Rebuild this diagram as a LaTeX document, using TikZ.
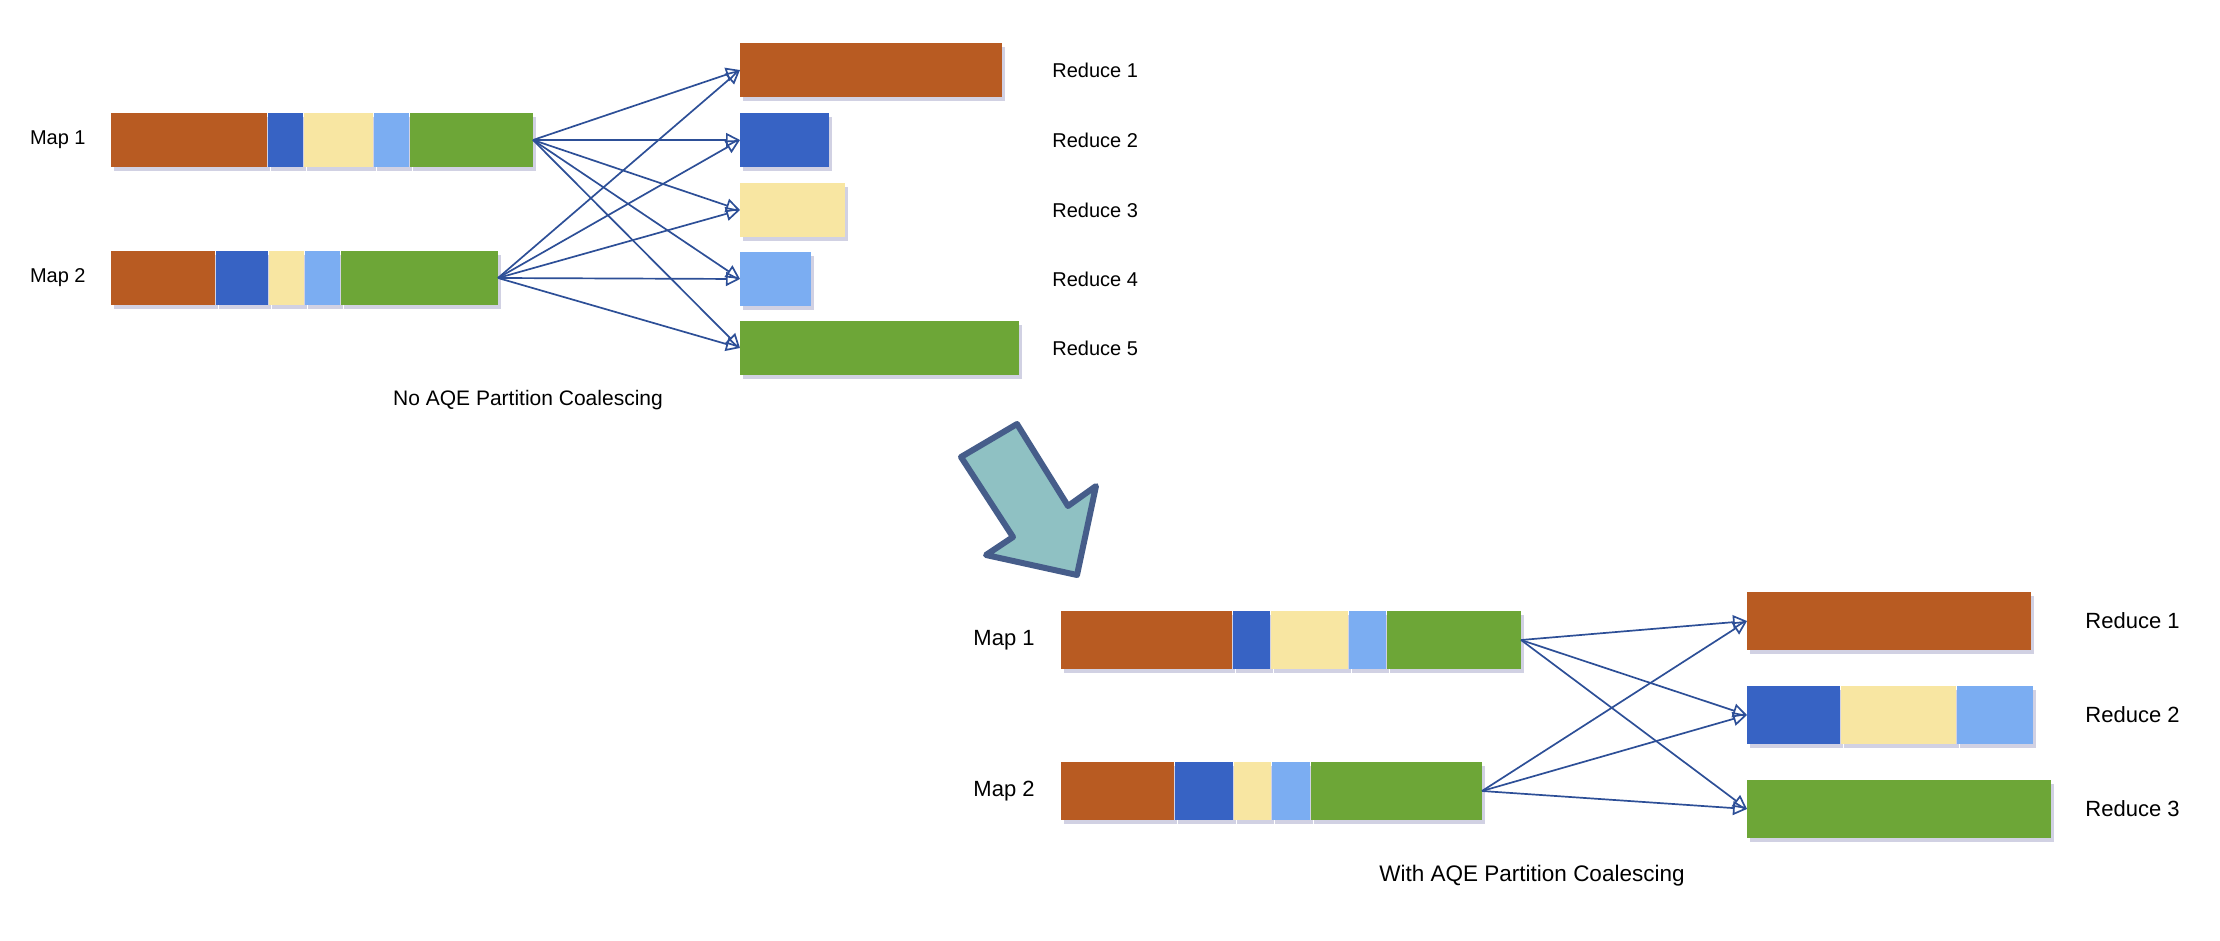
\documentclass[tikz,border=0pt]{standalone}
\usepackage{fontspec}
\setmainfont{Liberation Sans}
\usetikzlibrary{positioning,arrows.meta,shadows}
\definecolor{brn}{HTML}{B85B22}
\definecolor{dblu}{HTML}{3763C4}
\definecolor{ylw}{HTML}{F8E6A2}
\definecolor{lblu}{HTML}{7BADF2}
\definecolor{grn}{HTML}{6DA637}
\definecolor{edg}{HTML}{2D4F97}
\definecolor{bigfill}{HTML}{8FC1C3}
\definecolor{bigline}{HTML}{465D8A}

\begin{document}
\begin{tikzpicture}[x=0.5pt,y=-0.5pt,
        seg/.style={rectangle,inner sep=0pt,minimum height=27pt,anchor=west,
            drop shadow={shadow xshift=1.5pt,shadow yshift=-2pt,opacity=.18,fill=black!60!blue}},
        bseg/.style={seg,minimum height=29pt},
        lbl/.style={inner sep=0pt,font=\fontsize{10}{12}\selectfont},
        blbl/.style={inner sep=0pt,font=\fontsize{11}{13}\selectfont},
        flow/.style={every edge/.style={draw=edg,line width=0.85pt,
            -{Triangle[open,length=7pt,width=7pt]}}}]

    \useasboundingbox (0,0) rectangle (2220,941);

    % no coalescing
    \node[seg,fill=brn,minimum width=78pt] (a1) at (111,140) {};
    \node[seg,fill=dblu,minimum width=17.5pt,right=0pt of a1] (a2) {};
    \node[seg,fill=ylw,minimum width=34.5pt,right=0pt of a2] (a3) {};
    \node[seg,fill=lblu,minimum width=17.5pt,right=0pt of a3] (a4) {};
    \node[seg,fill=grn,minimum width=61.5pt,right=0pt of a4] (a5) {};
    \node[lbl,left=12.5pt of a1] (ma) {Map 1};

    \node[seg,fill=brn,minimum width=52pt] (b1) at (111,278) {};
    \node[seg,fill=dblu,minimum width=26pt,right=0pt of b1] (b2) {};
    \node[seg,fill=ylw,minimum width=17.5pt,right=0pt of b2] (b3) {};
    \node[seg,fill=lblu,minimum width=17.5pt,right=0pt of b3] (b4) {};
    \node[seg,fill=grn,minimum width=78.5pt,right=0pt of b4] (b5) {};
    \node[lbl,left=12.5pt of b1] (mb) {Map 2};

    \node[seg,fill=brn,minimum width=131pt] (r1) at (740,70) {};
    \node[seg,fill=dblu,minimum width=44.5pt] (r2) at (740,140) {};
    \node[seg,fill=ylw,minimum width=52.5pt] (r3) at (740,210) {};
    \node[seg,fill=lblu,minimum width=35.5pt] (r4) at (740,279) {};
    \node[seg,fill=grn,minimum width=139.5pt] (r5) at (740,348) {};

    \node[lbl,anchor=west] (t1) at (1052,70) {Reduce 1};
    \node[lbl,anchor=west] (t2) at (1052,140) {Reduce 2};
    \node[lbl,anchor=west] (t3) at (1052,210) {Reduce 3};
    \node[lbl,anchor=west] (t4) at (1052,279) {Reduce 4};
    \node[lbl,anchor=west] (t5) at (1052,348) {Reduce 5};

    \path[flow]
    (a5.east) edge (r1.west) edge (r2.west) edge (r3.west)
        edge (r4.west) edge (r5.west)
    (b5.east) edge (r1.west) edge (r2.west) edge (r3.west)
        edge (r4.west) edge (r5.west);

    \node[lbl,font=\fontsize{10.5}{12}\selectfont] (c1) at (528,400) {No AQE Partition Coalescing};

    % big arrow
    \draw[fill=bigfill,draw=bigline,line width=3pt,line join=round]
    (961,457) -- (1017,424) -- (1068,506) -- (1096,486) -- (1077,575)
    -- (986,555) -- (1013,537) -- cycle;

    % with coalescing
    \node[bseg,fill=brn,minimum width=85.5pt] (p1) at (1061,640) {};
    \node[bseg,fill=dblu,minimum width=18.5pt,right=0pt of p1] (p2) {};
    \node[bseg,fill=ylw,minimum width=38.5pt,right=0pt of p2] (p3) {};
    \node[bseg,fill=lblu,minimum width=18.5pt,right=0pt of p3] (p4) {};
    \node[bseg,fill=grn,minimum width=67pt,right=0pt of p4] (p5) {};
    \node[blbl,left=13pt of p1] (mp) {Map 1};

    \node[bseg,fill=brn,minimum width=56.5pt] (q1) at (1061,791) {};
    \node[bseg,fill=dblu,minimum width=29pt,right=0pt of q1] (q2) {};
    \node[bseg,fill=ylw,minimum width=18.5pt,right=0pt of q2] (q3) {};
    \node[bseg,fill=lblu,minimum width=19pt,right=0pt of q3] (q4) {};
    \node[bseg,fill=grn,minimum width=85.5pt,right=0pt of q4] (q5) {};
    \node[blbl,left=13pt of q1] (mq) {Map 2};

    \node[bseg,fill=brn,minimum width=142pt] (s1) at (1747,621) {};
    \node[bseg,fill=dblu,minimum width=46.5pt] (s2) at (1747,715) {};
    \node[bseg,fill=ylw,minimum width=57.5pt,right=0pt of s2] (s2b) {};
    \node[bseg,fill=lblu,minimum width=38pt,right=0pt of s2b] (s2c) {};
    \node[bseg,fill=grn,minimum width=152pt] (s3) at (1747,809) {};

    \node[blbl,anchor=west] (u1) at (2085,621) {Reduce 1};
    \node[blbl,anchor=west] (u2) at (2085,715) {Reduce 2};
    \node[blbl,anchor=west] (u3) at (2085,809) {Reduce 3};

    \path[flow]
    (p5.east) edge (s1.west) edge (s2.west) edge (s3.west)
    (q5.east) edge (s1.west) edge (s2.west) edge (s3.west);

    \node[blbl,font=\fontsize{11.25}{13}\selectfont] (c2) at (1532,876) {With AQE Partition Coalescing};

\end{tikzpicture}
\end{document}
